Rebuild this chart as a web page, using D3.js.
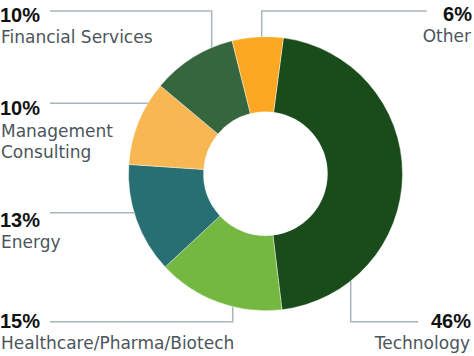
<!DOCTYPE html>
<html>
<head>
<meta charset="utf-8">
<script src="https://cdn.jsdelivr.net/npm/d3@7"></script>
<style>
  html, body { margin: 0; padding: 0; background: #fff; }
  svg { display: block; }
</style>
</head>
<body>
<svg id="chart" width="474" height="356"></svg>
<script>
const categories = ["Technology", "Healthcare/Pharma/Biotech", "Energy", "Management Consulting", "Financial Services", "Other"];
const values = [46, 15, 13, 10, 10, 6];
const colors = ["#1a4b1b", "#74b842", "#286f73", "#f8b752", "#36663d", "#fca823"];
const labelLines = [["Technology"], ["Healthcare/Pharma/Biotech"], ["Energy"], ["Management", "Consulting"], ["Financial Services"], ["Other"]];

const svg = d3.select("#chart");
const cx = 265.5, cy = 173.7, R = 137, r0 = 62;
const start = 7.5 * Math.PI / 180;

const pie = d3.pie().sort(null).startAngle(start).endAngle(start + 2 * Math.PI);
const arc = d3.arc().innerRadius(r0).outerRadius(R);
const arcs = pie(values);

const g = svg.append("g").attr("transform", `translate(${cx},${cy})`);
g.selectAll("path").data(arcs).enter().append("path")
  .attr("d", arc)
  .attr("fill", (d, i) => colors[i])
  .attr("stroke", "#fff")
  .attr("stroke-width", 0.4);

// helpers: point on outer circle
const yOnCircle = (x, top) => cy + (top ? -1 : 1) * Math.sqrt(R * R - (x - cx) * (x - cx));
const xOnCircle = (y, left) => cx + (left ? -1 : 1) * Math.sqrt(R * R - (y - cy) * (y - cy));

// layout per category (index matches categories)
const layout = [
  { anchor: "end", px: 471, py: 328, ly: 349, pts: [[350.7, yOnCircle(350.7, false)], [350.7, 321.7], [418.3, 321.7]] },
  { anchor: "start", px: 0, py: 328, ly: 349, pts: [[232.7, yOnCircle(232.7, false)], [232.7, 321.7], [50, 321.7]] },
  { anchor: "start", px: 0, py: 226.5, ly: 247.5, pts: [[xOnCircle(212.7, true), 212.7], [50, 212.7]] },
  { anchor: "start", px: 0, py: 115.3, ly: 136.5, pts: [[xOnCircle(103.3, true), 103.3], [50, 103.3]] },
  { anchor: "start", px: 0, py: 22, ly: 43.3, pts: [[211.7, yOnCircle(211.7, true)], [211.7, 11], [50, 11]] },
  { anchor: "end", px: 472, py: 20.7, ly: 41.7, pts: [[261.7, yOnCircle(261.7, true)], [261.7, 11], [426.7, 11]] }
];

const line = d3.line();
const lab = svg.append("g");
categories.forEach((c, i) => {
  const L = layout[i];
  lab.append("path")
    .attr("d", line(L.pts))
    .attr("fill", "none")
    .attr("stroke", "#a9b5b9")
    .attr("stroke-width", 1.5);
  lab.append("text")
    .attr("x", L.px).attr("y", L.py)
    .attr("text-anchor", L.anchor)
    .attr("font-family", "'Liberation Sans', Arial, sans-serif")
    .attr("font-weight", "bold")
    .attr("font-size", 20)
    .attr("fill", "#111")
    .text(values[i] + "%");
  labelLines[i].forEach((t, k) => {
    lab.append("text")
      .attr("x", L.anchor === "end" ? L.px - 1 : L.px + 1)
      .attr("y", L.ly + k * 21.5)
      .attr("text-anchor", L.anchor)
      .attr("font-family", "'DejaVu Sans', sans-serif")
      .attr("font-size", 17)
      .attr("fill", "#4b555b")
      .text(t);
  });
});
</script>
</body>
</html>
